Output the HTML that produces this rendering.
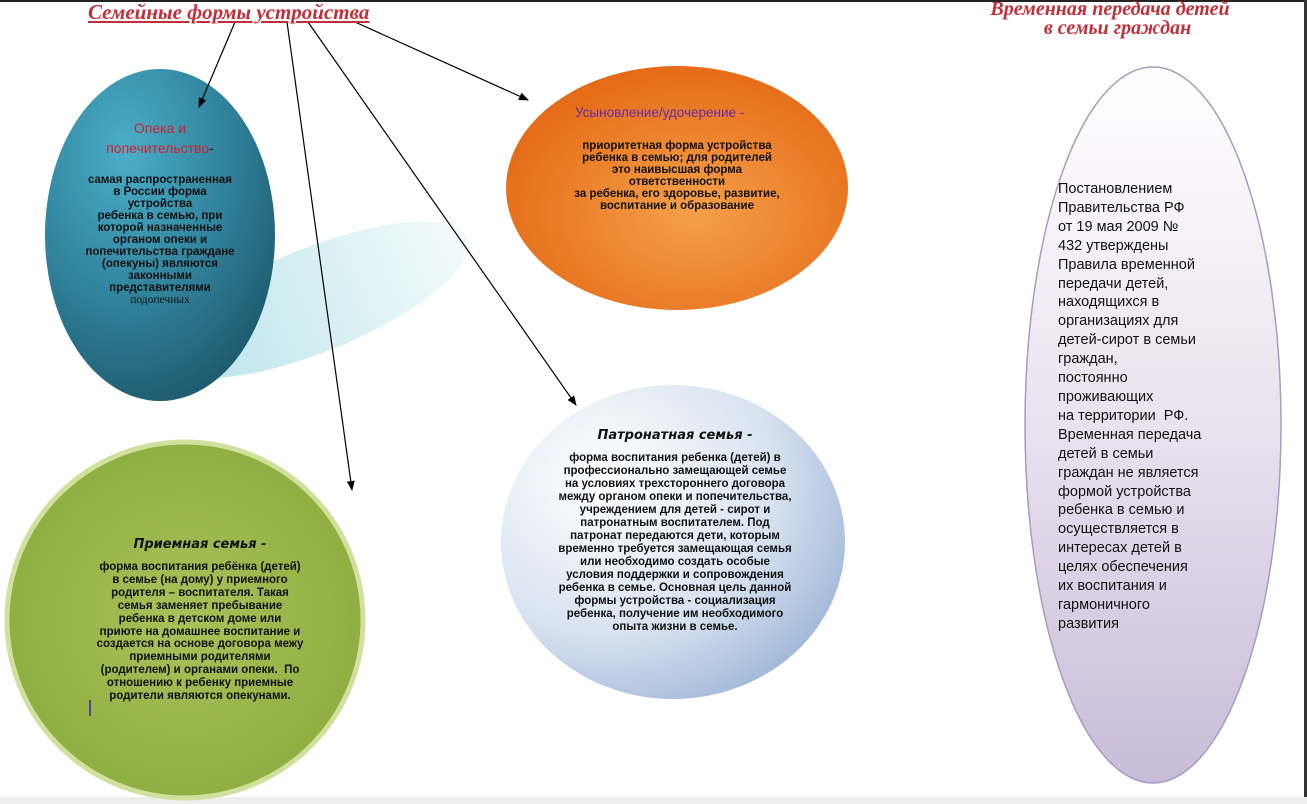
<!DOCTYPE html><html><head><meta charset="utf-8"><style>
body{margin:0;width:1307px;height:804px;background:#fff;position:relative;overflow:hidden;font-family:"Liberation Sans","DejaVu Sans",sans-serif}
.t{position:absolute;text-align:center;font-weight:bold;color:#111;font-size:11.5px;white-space:nowrap}
.ti{position:absolute;font-family:"Liberation Serif",serif;font-style:italic;font-weight:bold;color:#c0303a}
</style></head><body>
<svg width="1307" height="804" style="position:absolute;left:0;top:0">
<defs>
<radialGradient id="teal" cx="0.35" cy="0.25" r="0.8"><stop offset="0" stop-color="#4aaec8"/><stop offset="0.6" stop-color="#2f7f98"/><stop offset="1" stop-color="#1d5a6e"/></radialGradient>
<radialGradient id="or" cx="0.55" cy="0.6" r="0.7"><stop offset="0" stop-color="#f5a04a"/><stop offset="1" stop-color="#e2620f"/></radialGradient>
<radialGradient id="gr" cx="0.5" cy="0.5" r="0.6"><stop offset="0" stop-color="#a8c25a"/><stop offset="1" stop-color="#8aaa3c"/></radialGradient>
<radialGradient id="bl" cx="0.3" cy="0.3" r="0.9"><stop offset="0" stop-color="#ffffff"/><stop offset="0.55" stop-color="#d8e2f0"/><stop offset="1" stop-color="#8ea8d0"/></radialGradient>
<linearGradient id="pu" x1="0" y1="0" x2="0" y2="1"><stop offset="0" stop-color="#ffffff"/><stop offset="0.5" stop-color="#e9e2ef"/><stop offset="1" stop-color="#c8bcd8"/></linearGradient>
<linearGradient id="sh" x1="0" y1="0" x2="1" y2="0"><stop offset="0" stop-color="#b8e2ea"/><stop offset="1" stop-color="#f4fbfc"/></linearGradient>
<marker id="a" markerWidth="10" markerHeight="8" refX="9" refY="4" orient="auto" markerUnits="userSpaceOnUse"><path d="M0,0L10,4L0,8z" fill="#000"/></marker>
</defs>
<rect x="0" y="0" width="1307" height="2" fill="#222"/>
<rect x="1304" y="0" width="3" height="804" fill="#333"/>
<rect x="0" y="797" width="1307" height="7" fill="#eee"/>
<ellipse cx="315" cy="300" rx="165" ry="52" transform="rotate(-22 315 300)" fill="url(#sh)"/>
<ellipse cx="160" cy="235" rx="115" ry="166" fill="url(#teal)"/>
<ellipse cx="677" cy="188" rx="171" ry="122" fill="url(#or)"/>
<circle cx="185" cy="620" r="178" fill="url(#gr)" stroke="#d2e09e" stroke-width="5"/>
<ellipse cx="673" cy="542" rx="172" ry="157" fill="url(#bl)"/>
<ellipse cx="1153" cy="425" rx="128" ry="358" fill="url(#pu)" stroke="#a89cc0" stroke-width="1.5"/>
<g stroke="#000" stroke-width="1.2" fill="none" marker-end="url(#a)">
<line x1="235" y1="22" x2="199" y2="107"/>
<line x1="287" y1="22" x2="352" y2="490"/>
<line x1="308" y1="22" x2="576" y2="405"/>
<line x1="355" y1="22" x2="528" y2="100"/>
</g>
<line x1="90" y1="700" x2="90" y2="716" stroke="#5a3ea0" stroke-width="2"/>
</svg>
<div class="ti" style="left:88px;top:0px;font-size:21px;text-decoration:underline">Семейные формы устройства</div>
<div class="ti" style="left:980px;top:0px;font-size:20px;line-height:19px;text-align:center;width:260px">Временная передача детей<br>&nbsp;&nbsp;&nbsp;в семьи граждан</div>
<div class="t" style="left:60px;top:118px;width:200px;font-weight:normal;color:#d02030;font-size:14px;line-height:20px">Опека и<br>попечительство<span style="color:#111">-</span></div>
<div class="t" style="left:60px;top:174px;width:200px;line-height:12px">самая распространенная<br>в России форма<br>устройства<br>ребенка в семью, при<br>которой назначенные<br>органом опеки и<br>попечительства граждане<br>(опекуны) являются<br>законными<br>представителями<br><span style="font-family:'Liberation Serif',serif;font-weight:normal">подопечных</span></div>
<div class="t" style="left:575px;top:105px;width:240px;font-weight:normal;color:#6a2aa0;font-size:13.5px;text-align:left">Усыновление/удочерение -</div>
<div class="t" style="left:557px;top:140px;width:240px;line-height:12px">приоритетная форма устройства<br>ребенка в семью; для родителей<br>это наивысшая форма<br>ответственности<br>за ребенка, его здоровье, развитие,<br>воспитание и образование</div>
<div class="t" style="left:560px;top:428px;width:230px;font-style:italic;font-size:13px;font-family:'DejaVu Sans',sans-serif">Патронатная семья -</div>
<div class="t" style="left:555px;top:452px;width:240px;line-height:13px">форма воспитания ребенка (детей) в<br>профессионально замещающей семье<br>на условиях трехстороннего договора<br>между органом опеки и попечительства,<br>учреждением для детей - сирот и<br>патронатным воспитателем. Под<br>патронат передаются дети, которым<br>временно требуется замещающая семья<br>или необходимо создать особые<br>условия поддержки и сопровождения<br>ребенка в семье. Основная цель данной<br>формы устройства - социализация<br>ребенка, получение им необходимого<br>опыта жизни в семье.</div>
<div class="t" style="left:95px;top:537px;width:210px;font-style:italic;font-size:13px;font-family:'DejaVu Sans',sans-serif">Приемная семья -</div>
<div class="t" style="left:80px;top:561px;width:240px;line-height:12.9px">форма воспитания ребёнка (детей)<br>в семье (на дому) у приемного<br>родителя – воспитателя. Такая<br>семья заменяет пребывание<br>ребенка в детском доме или<br>приюте на домашнее воспитание и<br>создается на основе договора межу<br>приемными родителями<br>(родителем) и органами опеки.&nbsp; По<br>отношению к ребенку приемные<br>родители являются опекунами.</div>
<div class="t" style="left:1058px;top:180px;text-align:left;font-weight:normal;font-size:14.5px;line-height:18.9px;color:#111">Постановлением<br>Правительства РФ<br>от 19 мая 2009 №<br>432 утверждены<br>Правила временной<br>передачи детей,<br>находящихся в<br>организациях для<br>детей-сирот в семьи<br>граждан,<br>постоянно<br>проживающих<br>на территории&nbsp; РФ.<br>Временная передача<br>детей в семьи<br>граждан не является<br>формой устройства<br>ребенка в семью и<br>осуществляется в<br>интересах детей в<br>целях обеспечения<br>их воспитания и<br>гармоничного<br>развития</div>
</body></html>
